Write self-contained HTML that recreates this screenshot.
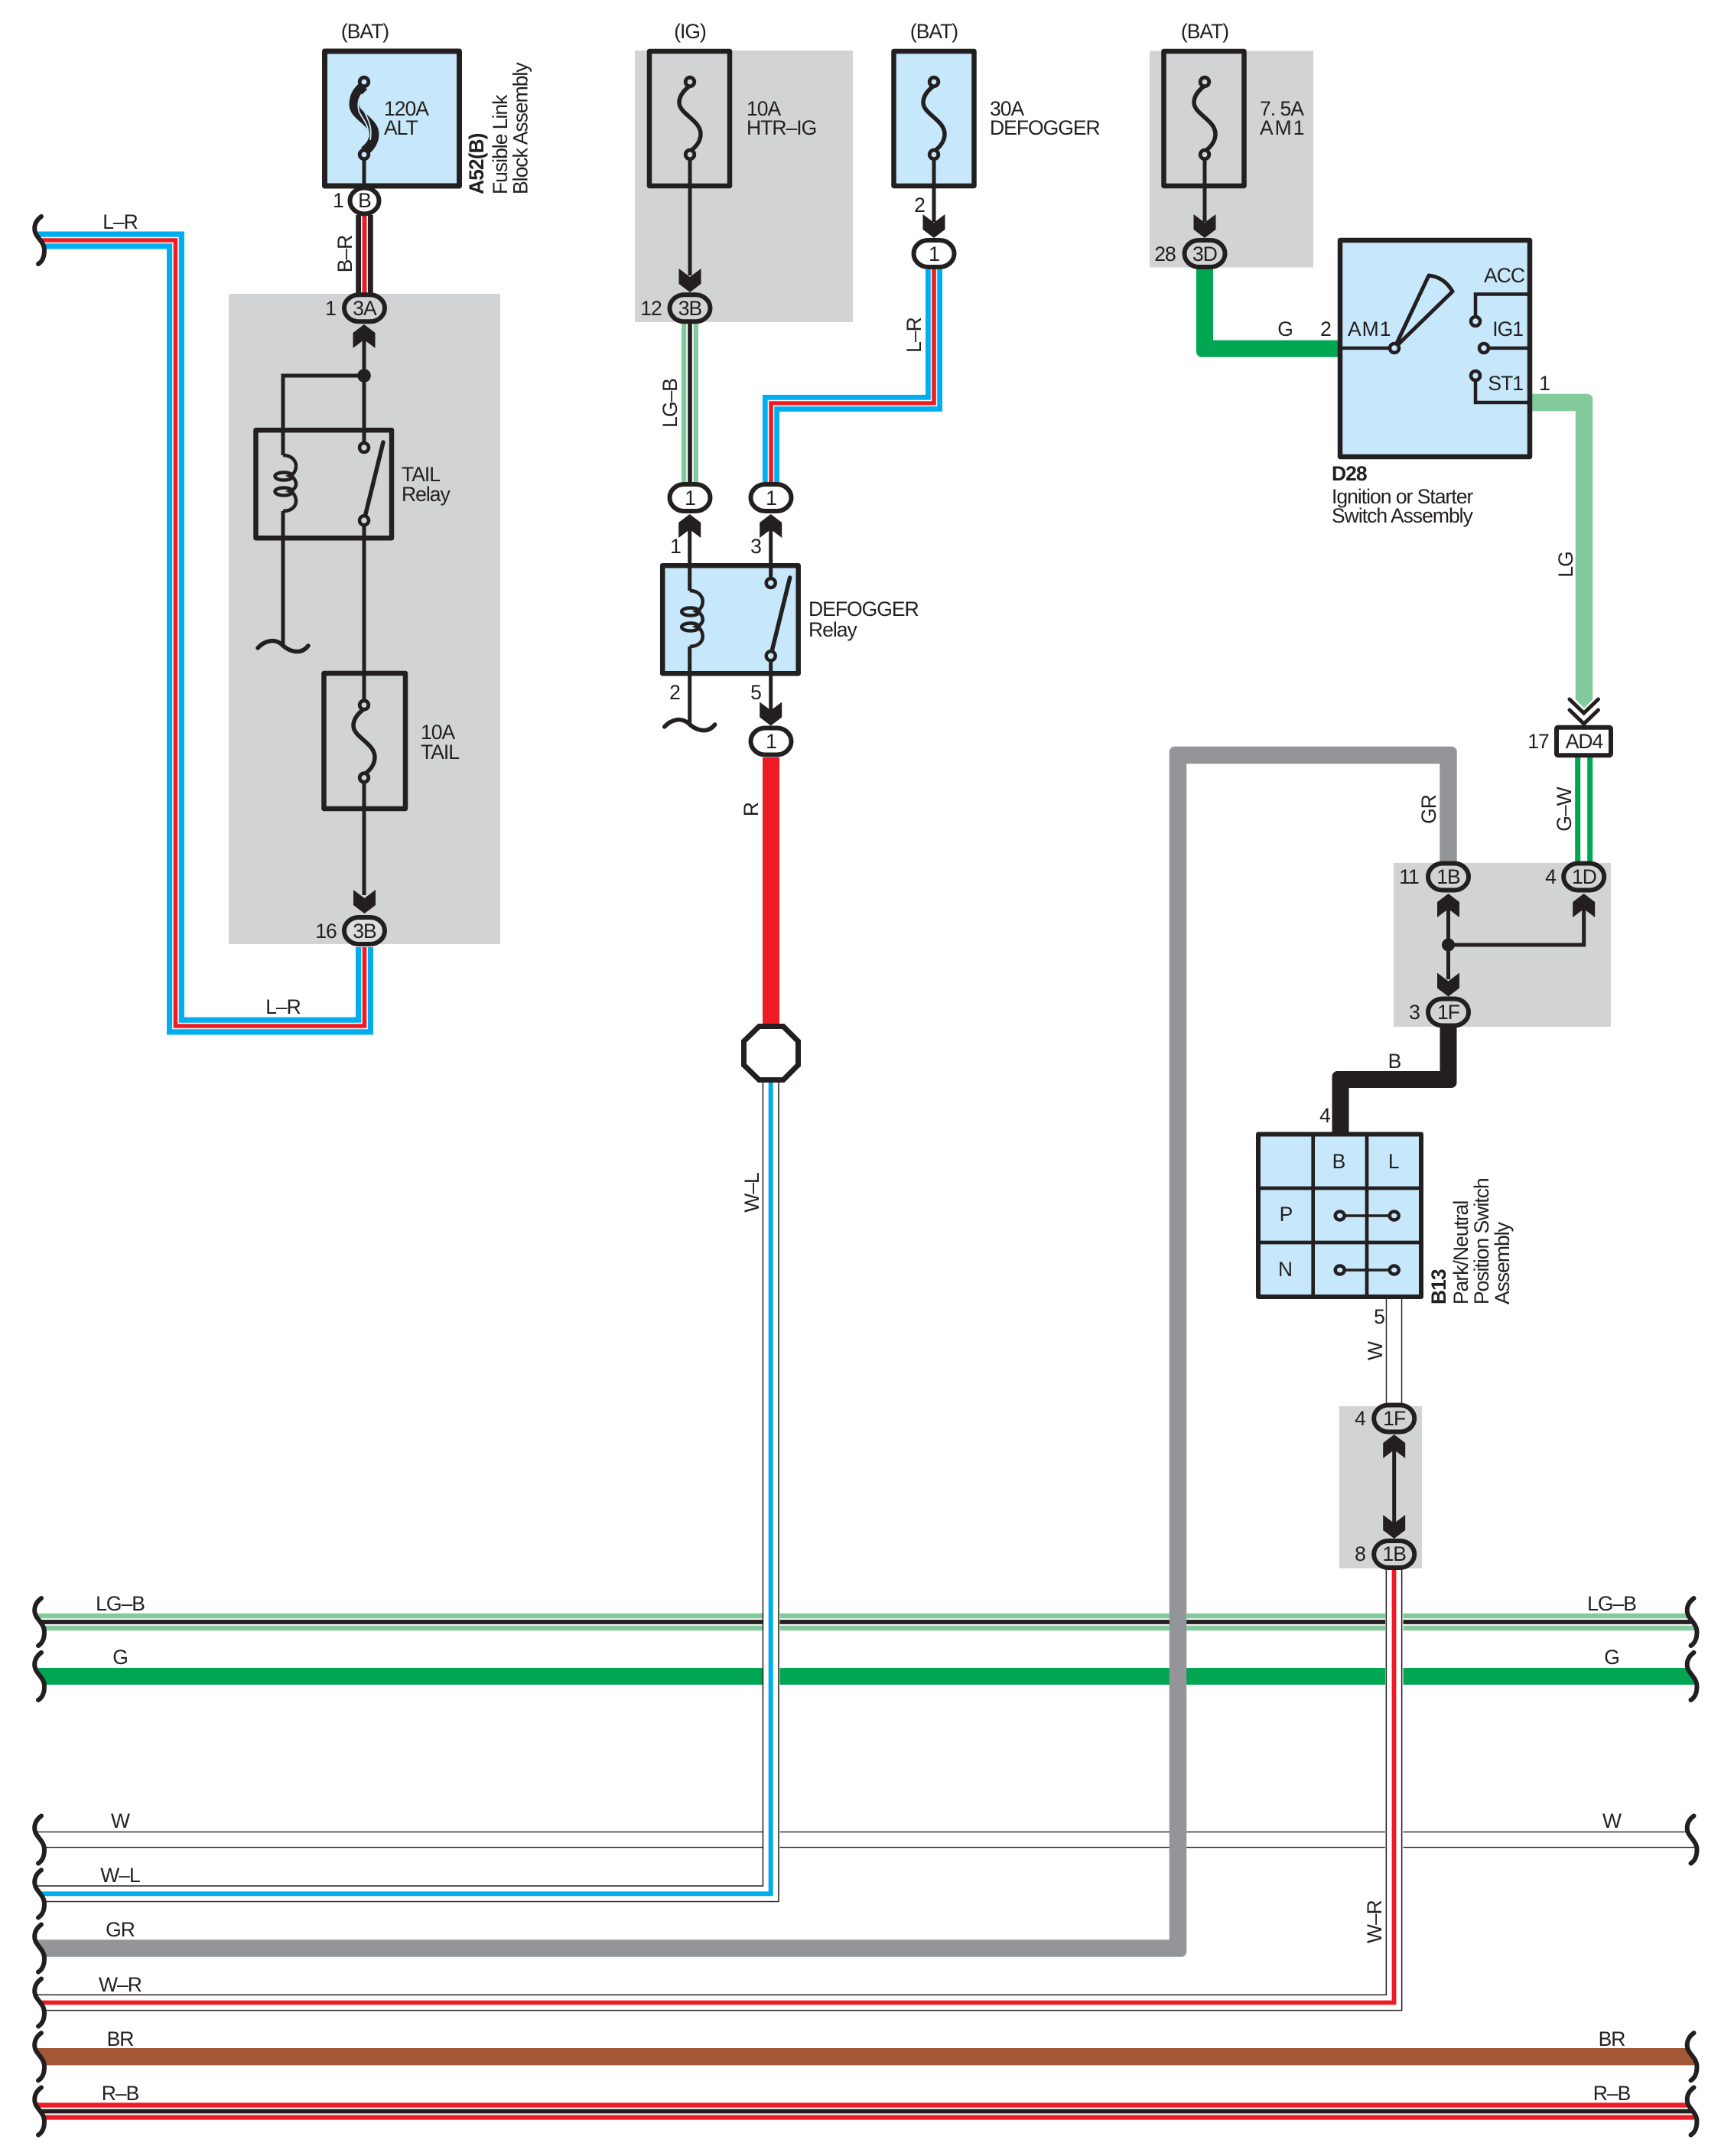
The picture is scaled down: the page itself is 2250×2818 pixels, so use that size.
<!DOCTYPE html>
<html lang="en">
<head>
<meta charset="utf-8">
<title>Wiring Diagram</title>
<style>
html,body{margin:0;padding:0;background:#fff;}
svg{display:block;}
text{font-family:"Liberation Sans",Arial,sans-serif;font-size:26.5px;letter-spacing:-1px;fill:#231f20;}
.m{text-anchor:middle;}
.e{text-anchor:end;}
.b{font-weight:bold;}
.k{stroke:#231f20;fill:none;stroke-width:5;}
.w{fill:none;stroke-linejoin:miter;stroke-linecap:butt;}
</style>
</head>
<body>
<svg xmlns="http://www.w3.org/2000/svg" width="2250" height="2818" viewBox="0 0 2250 2818">
<defs>
  <g id="arrD"><path d="M0,0 L-14.5,-11 L-14.5,-31 L0,-20 L14.5,-31 L14.5,-11 Z" fill="#231f20"/></g>
  <g id="arrU"><path d="M0,0 L-14.5,11 L-14.5,31 L0,20 L14.5,31 L14.5,11 Z" fill="#231f20"/></g>
  <g id="c"><rect x="-26.5" y="-17.5" width="53" height="35" rx="19" ry="17.5" stroke="#231f20" stroke-width="6"/></g>
  <g id="fuse">
    <path d="M0,5 C-8,11 -14,18 -14,27 C-14,42 14,50 14,68 C14,78 8,85 0,91" fill="none" stroke="#231f20" stroke-width="5.5"/>
    <circle cx="0" cy="0" r="5.8" stroke="#231f20" stroke-width="4.8"/>
    <circle cx="0" cy="95" r="5.8" stroke="#231f20" stroke-width="4.8"/>
  </g>
  <g id="relay">
    <rect x="-35.5" y="3.2" width="177.5" height="141" stroke="#231f20" stroke-width="6.5" stroke-linejoin="round"/>
    <path d="M0,3 V36 M0,109 V144 M106,3 V20 M106,127 V144" fill="none" stroke="#231f20" stroke-width="5"/>
    <path d="M0,36 C11,36 17,43 17,50 C17,56 14,61 9,63 C14,65 17,69 17,74 C17,78 14,81 9,83 C14,85 17,90 17,96 C17,103 11,109 0,109" fill="none" stroke="#231f20" stroke-width="4.5"/>
    <ellipse cx="1" cy="63.5" rx="11.5" ry="5" fill="none" stroke="#231f20" stroke-width="4.5"/>
    <ellipse cx="1" cy="83.5" rx="11.5" ry="5" fill="none" stroke="#231f20" stroke-width="4.5"/>
    <path d="M106,121 L131,19" fill="none" stroke="#231f20" stroke-width="5.5" stroke-linecap="round"/>
    <circle cx="106" cy="26" r="6" stroke="#231f20" stroke-width="4.5"/>
    <circle cx="106" cy="121.3" r="6" stroke="#231f20" stroke-width="4.5"/>
  </g>
  <path id="gnd" d="M337,847 C345,838 358,834 368,842 C376,850 392,858 403,844" fill="none" stroke="#231f20" stroke-width="5.5" stroke-linecap="round"/>
  <g id="sqL"><path d="M54,-31 C44,-24 44,-14 47,-8 C51,-1 58,4 58,13 C58,22 55,28 50,31 L0,31 L0,-31 Z" fill="#fff" stroke="none"/><path d="M54,-31 C44,-24 44,-14 47,-8 C51,-1 58,4 58,13 C58,22 55,28 50,31" fill="none" stroke="#231f20" stroke-width="6" stroke-linecap="round"/></g>
  <g id="sqR"><path d="M2214.5,-31 C2204.5,-24 2204.5,-14 2207.5,-8 C2211.5,-1 2218.5,4 2218.5,13 C2218.5,22 2215.5,28 2210.5,31 L2250,31 L2250,-31 Z" fill="#fff" stroke="none"/><path d="M2214.5,-31 C2204.5,-24 2204.5,-14 2207.5,-8 C2211.5,-1 2218.5,4 2218.5,13 C2218.5,22 2215.5,28 2210.5,31" fill="none" stroke="#231f20" stroke-width="6" stroke-linecap="round"/></g>
</defs>

<rect width="2250" height="2818" fill="#fff"/>

<!-- gray regions -->
<rect x="299" y="384" width="355" height="850" fill="#d1d3d4"/>
<rect x="830" y="66" width="285" height="355" fill="#d1d3d4"/>
<rect x="1503" y="66.5" width="214" height="283" fill="#d1d3d4"/>
<rect x="1822" y="1128" width="284" height="214" fill="#d1d3d4"/>
<rect x="1751" y="1838" width="108" height="212" fill="#d1d3d4"/>

<!-- horizontal bus wires -->
<path class="w" d="M40,2120 H2215" stroke="#82ca9c" stroke-width="22.6"/>
<path class="w" d="M40,2120 H2215" stroke="#fff" stroke-width="9.5"/>
<path class="w" d="M40,2120 H2215" stroke="#231f20" stroke-width="5.8"/>
<path class="w" d="M40,2191 H2215" stroke="#00a651" stroke-width="22"/>
<path class="w" d="M40,2404.5 H2215" stroke="#231f20" stroke-width="21.5"/>
<path class="w" d="M40,2404.5 H2215" stroke="#fff" stroke-width="18.7"/>
<path class="w" d="M40,2688.2 H2215" stroke="#a45735" stroke-width="22.4"/>
<path class="w" d="M40,2759.5 H2215" stroke="#ed1c24" stroke-width="22.2"/>
<path class="w" d="M40,2759.5 H2215" stroke="#fff" stroke-width="9.8"/>
<path class="w" d="M40,2759.5 H2215" stroke="#231f20" stroke-width="5.8"/>

<!-- breaks behind vertical wires -->
<rect x="997" y="2100" width="22.5" height="320" fill="#fff"/>
<rect x="1811" y="2100" width="23.5" height="320" fill="#fff"/>

<!-- L-R far left -->
<path class="w" d="M40,314 H229.5 V1341 H476.5 V1238" stroke="#00aeef" stroke-width="23"/>
<path class="w" d="M40,314 H229.5 V1341 H476.5 V1238" stroke="#fff" stroke-width="8.6"/>
<path class="w" d="M40,314 H229.5 V1341 H476.5 V1238" stroke="#ed1c24" stroke-width="5.6"/>

<!-- B-R -->
<path class="w" d="M476.5,281 V385" stroke="#231f20" stroke-width="22.5"/>
<path class="w" d="M476.5,281 V385" stroke="#fff" stroke-width="9"/>
<path class="w" d="M476.5,281 V385" stroke="#ed1c24" stroke-width="6"/>

<!-- LG-B vertical -->
<path class="w" d="M902,423 V630" stroke="#82ca9c" stroke-width="22"/>
<path class="w" d="M902,423 V630" stroke="#fff" stroke-width="9.5"/>
<path class="w" d="M902,423 V630" stroke="#231f20" stroke-width="5.5"/>

<!-- L-R centre -->
<path class="w" d="M1008,630 V527 H1221 V352" stroke="#00aeef" stroke-width="22"/>
<path class="w" d="M1008,630 V527 H1221 V352" stroke="#fff" stroke-width="8.6"/>
<path class="w" d="M1008,630 V527 H1221 V352" stroke="#ed1c24" stroke-width="5.6"/>

<!-- R -->
<path class="w" d="M1008,990 V1340" stroke="#ed1c24" stroke-width="22"/>

<!-- W-L -->
<path class="w" d="M40,2475.3 H1007.7 V1412" stroke="#231f20" stroke-width="22"/>
<path class="w" d="M40,2475.3 H1007.7 V1412" stroke="#fff" stroke-width="19"/>
<path class="w" d="M40,2475.3 H1007.7 V1412" stroke="#00aeef" stroke-width="6"/>

<!-- GR -->
<path class="w" d="M40,2546.5 H1540 V987 H1893.5 V1130" stroke="#939598" stroke-width="22.5"/>
<path d="M1528.6,975.6 h7.5 a7.5,7.5 0 0 0 -7.5,7.5 z M1904.9,975.6 h-7.5 a7.5,7.5 0 0 1 7.5,7.5 z M1551.4,2557.9 h-7.5 a7.5,7.5 0 0 0 7.5,-7.5 z" fill="#fff"/>

<!-- W-R -->
<path class="w" d="M40,2617.5 H1822.5 V2050" stroke="#231f20" stroke-width="21.8"/>
<path class="w" d="M40,2617.5 H1822.5 V2050" stroke="#fff" stroke-width="18.8"/>
<path class="w" d="M40,2617.5 H1822.5 V2050" stroke="#ed1c24" stroke-width="5.8"/>

<!-- G from 3D -->
<path class="w" d="M1575,350 V455.7 H1752" stroke="#00a651" stroke-width="22"/>
<path d="M1563.9,466.8 h7.5 a7.5,7.5 0 0 1 -7.5,-7.5 z" fill="#fff"/>

<!-- LG -->
<path class="w" d="M2000,526 H2071 V912" stroke="#82ca9c" stroke-width="22.5"/>
<path d="M2082.4,514.7 h-7.5 a7.5,7.5 0 0 1 7.5,7.5 z" fill="#fff"/>
<path d="M2059.7,911 H2082.3 V914 L2071,925.5 L2059.7,914 Z" fill="#82ca9c"/>

<!-- G-W -->
<path class="w" d="M2070.7,988 V1130" stroke="#00a651" stroke-width="23"/>
<path class="w" d="M2070.7,988 V1130" stroke="#fff" stroke-width="9"/>

<!-- B -->
<path class="w" d="M1893.5,1342 V1411 H1752.5 V1482" stroke="#231f20" stroke-width="22"/>
<path d="M1904.6,1422.1 h-7.5 a7.5,7.5 0 0 0 7.5,-7.5 z M1741.4,1399.9 h7.5 a7.5,7.5 0 0 0 -7.5,7.5 z" fill="#fff"/>

<!-- W -->
<path class="w" d="M1822.5,1696 V1838" stroke="#231f20" stroke-width="21.5"/>
<path class="w" d="M1822.5,1696 V1838" stroke="#fff" stroke-width="18.7"/>

<!-- squiggles -->
<use href="#sqL" x="0" y="314"/>
<use href="#sqL" x="0" y="2120"/>
<use href="#sqL" x="0" y="2191"/>
<use href="#sqL" x="0" y="2404.5"/>
<use href="#sqL" x="0" y="2475.3"/>
<use href="#sqL" x="0" y="2546.5"/>
<use href="#sqL" x="0" y="2617.5"/>
<use href="#sqL" x="0" y="2688.2"/>
<use href="#sqL" x="0" y="2759.5"/>
<use href="#sqR" x="0" y="2120"/>
<use href="#sqR" x="0" y="2191"/>
<use href="#sqR" x="0" y="2404.5"/>
<use href="#sqR" x="0" y="2688.2"/>
<use href="#sqR" x="0" y="2759.5"/>

<!-- A52 block -->
<rect x="424.5" y="67" width="176" height="176" fill="#c7e8fa" stroke="#231f20" stroke-width="7" stroke-linejoin="round"/>
<path class="k" d="M476,208 V244"/>
<path d="M0,5 C-10,13 -13,20 -13,30 C-13,44 13,52 13,68 C13,78 8,85 0,91" transform="translate(476,107)" fill="none" stroke="#231f20" stroke-width="13"/>
<path d="M-3,16 C-9,24 -8,32 -7,37 C-4,48 6,52 6,72" transform="translate(476,107)" fill="none" stroke="#c7e8fa" stroke-width="1.8"/>
<path d="M2,20 C-3,28 -1,36 2,42 C5,50 11,58 8,76" transform="translate(476,107)" fill="none" stroke="#c7e8fa" stroke-width="1.8"/>
<circle cx="476" cy="107" r="5.8" fill="#c7e8fa" stroke="#231f20" stroke-width="4.8"/>
<circle cx="476" cy="202" r="5.8" fill="#c7e8fa" stroke="#231f20" stroke-width="4.8"/>
<ellipse cx="476.5" cy="262.5" rx="19" ry="17" fill="#fff" stroke="#231f20" stroke-width="6"/>

<!-- TAIL circuit -->
<path class="k" d="M476,440 V585 M476,680 V1170"/>
<path class="k" d="M370,595 V491 H476"/>
<path class="k" d="M370,668 V846"/>
<use href="#gnd"/>
<circle cx="476" cy="491" r="8.8" fill="#231f20"/>
<use href="#relay" x="370" y="559" fill="#d1d3d4"/>
<use href="#arrU" x="476" y="424"/>
<rect x="423.5" y="880" width="106.5" height="177" fill="#d1d3d4" stroke="#231f20" stroke-width="6.5" stroke-linejoin="round"/>
<path class="k" d="M476,877 V921 M476,1017 V1170"/>
<use href="#fuse" x="476" y="921.5" fill="#d1d3d4"/>
<use href="#arrD" x="476.5" y="1194"/>
<use href="#c" x="476.5" y="402.8" fill="#d1d3d4"/>
<use href="#c" x="476.5" y="1216.5" fill="#dcddde"/>

<!-- HTR-IG -->
<rect x="849" y="67" width="105" height="176" fill="#d1d3d4" stroke="#231f20" stroke-width="6.5" stroke-linejoin="round"/>
<path class="k" d="M902,202 V360"/>
<use href="#fuse" x="902" y="107" fill="#d1d3d4"/>
<use href="#arrD" x="902" y="382"/>
<use href="#c" x="902" y="402.8" fill="#d1d3d4"/>

<!-- 30A DEFOGGER -->
<rect x="1168.5" y="67" width="105" height="176" fill="#c7e8fa" stroke="#231f20" stroke-width="6.5" stroke-linejoin="round"/>
<path class="k" d="M1221,202 V290"/>
<use href="#fuse" x="1221" y="107" fill="#c7e8fa"/>
<use href="#arrD" x="1221" y="311"/>
<use href="#c" x="1221" y="331.5" fill="#fff"/>

<!-- AM1 fuse -->
<rect x="1521.5" y="67" width="105" height="176" fill="#d1d3d4" stroke="#231f20" stroke-width="6.5" stroke-linejoin="round"/>
<path class="k" d="M1575,202 V290"/>
<use href="#fuse" x="1575" y="107" fill="#d1d3d4"/>
<use href="#arrD" x="1575" y="311"/>
<use href="#c" x="1575" y="331.5" fill="#d1d3d4"/>

<!-- defogger relay -->
<use href="#c" x="902" y="650.5" fill="#fff"/>
<use href="#c" x="1008" y="650.5" fill="#fff"/>
<path class="k" d="M901.7,690 V773 M901.7,846 V948"/>
<path class="k" d="M1007.7,690 V762 M1007.7,858 V930"/>
<use href="#relay" x="901.7" y="736" fill="#c7e8fa"/>
<use href="#gnd" x="531.7" y="103"/>
<use href="#arrU" x="901.7" y="672"/>
<use href="#arrU" x="1007.7" y="672"/>
<use href="#arrD" x="1007.7" y="948.5"/>
<use href="#c" x="1008" y="969" fill="#fff"/>

<!-- splice -->
<path d="M992.5,1341.5 H1024 L1043.5,1361 V1392 L1024,1411.5 H992.5 L972.5,1392 V1361 Z" fill="#fff" stroke="#231f20" stroke-width="7"/>

<!-- Ignition switch -->
<rect x="1752" y="314" width="248" height="283" fill="#c7e8fa" stroke="#231f20" stroke-width="6.5" stroke-linejoin="round"/>
<path class="k" style="stroke-width:4.5" d="M1752,455 H1823"/>
<path d="M1823,455 L1868,360 Q1888,362 1899,381 Z" fill="#c7e8fa" stroke="#231f20" stroke-width="5" stroke-linejoin="round"/>
<circle cx="1823" cy="455" r="6" fill="#c7e8fa" stroke="#231f20" stroke-width="4.5"/>
<path class="k" style="stroke-width:4.5" d="M2000,384.5 H1929 V420 M1946,455 H2000 M1929,491 V526 H2000"/>
<circle cx="1929" cy="420" r="6" fill="#c7e8fa" stroke="#231f20" stroke-width="4.5"/>
<circle cx="1940" cy="455" r="6" fill="#c7e8fa" stroke="#231f20" stroke-width="4.5"/>
<circle cx="1929" cy="491" r="6" fill="#c7e8fa" stroke="#231f20" stroke-width="4.5"/>

<!-- AD4 chevrons -->
<path d="M2052,914 L2070.7,932 L2089.5,914" fill="none" stroke="#fff" stroke-width="9"/>
<path d="M2052,914 L2070.7,932 L2089.5,914" fill="none" stroke="#231f20" stroke-width="5" stroke-linecap="round"/>
<path d="M2052,928 L2070.7,946 L2089.5,928" fill="none" stroke="#231f20" stroke-width="5" stroke-linecap="round"/>
<rect x="2035" y="950.7" width="71" height="36.5" rx="2" fill="#fff" stroke="#231f20" stroke-width="6"/>

<!-- 1B 1D 1F group -->
<path class="k" d="M1893.5,1180 V1280 M1893.5,1235 H2070.7 V1180"/>
<circle cx="1893.5" cy="1235" r="8.5" fill="#231f20"/>
<use href="#arrU" x="1893.5" y="1168"/>
<use href="#arrU" x="2070.7" y="1168"/>
<use href="#arrD" x="1893.5" y="1302.5"/>
<use href="#c" x="1893.5" y="1146" fill="#d1d3d4"/>
<use href="#c" x="2070.7" y="1146" fill="#d1d3d4"/>
<use href="#c" x="1893.5" y="1323" fill="#d1d3d4"/>

<!-- P/N table -->
<rect x="1645" y="1482.5" width="213" height="212.5" fill="#c7e8fa" stroke="#231f20" stroke-width="6" stroke-linejoin="round"/>
<path d="M1716.7,1482 V1695 M1787,1482 V1695 M1645,1553 H1858 M1645,1624 H1858" stroke="#231f20" stroke-width="4.7" fill="none"/>
<path d="M1751.7,1589 H1822.7 M1751.7,1660 H1822.7" stroke="#231f20" stroke-width="3.5" fill="none"/>
<ellipse cx="1751.7" cy="1589" rx="6" ry="5.5" fill="#c7e8fa" stroke="#231f20" stroke-width="4.5"/>
<ellipse cx="1822.7" cy="1589" rx="6" ry="5.5" fill="#c7e8fa" stroke="#231f20" stroke-width="4.5"/>
<ellipse cx="1751.7" cy="1660" rx="6" ry="5.5" fill="#c7e8fa" stroke="#231f20" stroke-width="4.5"/>
<ellipse cx="1822.7" cy="1660" rx="6" ry="5.5" fill="#c7e8fa" stroke="#231f20" stroke-width="4.5"/>

<!-- 1F-1B bottom -->
<path class="k" d="M1822.7,1890 V1995"/>
<use href="#arrU" x="1822.7" y="1875"/>
<use href="#arrD" x="1822.7" y="2011"/>
<use href="#c" x="1822.7" y="1854" fill="#d1d3d4"/>
<use href="#c" x="1822.7" y="2031.5" fill="#d1d3d4"/>

<!-- TEXT -->
<text class="m" x="477" y="50">(BAT)</text>
<text x="502" y="151">120A</text>
<text x="502" y="176">ALT</text>
<text class="m" x="442" y="271">1</text>
<text class="m" x="476.5" y="271">B</text>
<text class="m" x="432" y="412">1</text>
<text class="m" x="476.5" y="412">3A</text>
<text class="b" transform="translate(632,254) rotate(-90)">A52(B)</text>
<text transform="translate(663,254) rotate(-90)">Fusible Link</text>
<text transform="translate(689.5,254) rotate(-90)">Block Assembly</text>
<text class="m" transform="translate(460,332) rotate(-90)">B–R</text>
<text class="m" x="157" y="299">L–R</text>
<text x="525" y="629">TAIL</text>
<text x="525" y="655">Relay</text>
<text x="550" y="966">10A</text>
<text x="550" y="992">TAIL</text>
<text class="m" x="426" y="1226">16</text>
<text class="m" x="476.5" y="1226">3B</text>
<text class="m" x="370" y="1325">L–R</text>

<text class="m" x="902" y="50">(IG)</text>
<text x="976" y="151">10A</text>
<text x="976" y="176">HTR–IG</text>
<text class="m" x="851" y="412">12</text>
<text class="m" x="902" y="412">3B</text>
<text class="m" transform="translate(885,527) rotate(-90)">LG–B</text>
<text class="m" x="902" y="660">1</text>
<text class="m" x="1008" y="660">1</text>

<text class="m" x="1221" y="50">(BAT)</text>
<text x="1294" y="151">30A</text>
<text x="1294" y="176">DEFOGGER</text>
<text class="m" x="1202" y="277">2</text>
<text class="m" x="1221" y="341">1</text>
<text class="m" transform="translate(1204,438) rotate(-90)">L–R</text>

<text class="m" x="883" y="723">1</text>
<text class="m" x="988" y="723">3</text>
<text class="m" x="882" y="914">2</text>
<text class="m" x="988" y="914">5</text>
<text x="1057" y="805">DEFOGGER</text>
<text x="1057" y="832">Relay</text>
<text class="m" x="1008" y="978">1</text>
<text class="m" transform="translate(991,1058) rotate(-90)">R</text>
<text class="m" transform="translate(992,1559) rotate(-90)">W–L</text>

<text class="m" x="1575" y="50">(BAT)</text>
<text x="1647" y="151">7. 5A</text>
<text x="1647" y="176" style="letter-spacing:2px">AM1</text>
<text class="m" x="1523" y="341">28</text>
<text class="m" x="1575" y="341">3D</text>
<text class="m" x="1680" y="439">G</text>
<text class="m" x="1733" y="439">2</text>
<text x="1762" y="439" style="letter-spacing:1px">AM1</text>
<text class="e" x="1993" y="369">ACC</text>
<text class="e" x="1991" y="439">IG1</text>
<text class="e" x="1991" y="510">ST1</text>
<text class="m" x="2019" y="510">1</text>
<text class="b" x="1741" y="628">D28</text>
<text x="1741" y="658">Ignition or Starter</text>
<text x="1741" y="683">Switch Assembly</text>
<text class="m" transform="translate(2056,738) rotate(-90)">LG</text>

<text class="m" x="2011" y="978">17</text>
<text class="m" x="2071" y="978">AD4</text>
<text class="m" transform="translate(1877,1058) rotate(-90)">GR</text>
<text class="m" transform="translate(2054,1058) rotate(-90)">G–W</text>
<text class="m" x="1842" y="1155">11</text>
<text class="m" x="1893.5" y="1155">1B</text>
<text class="m" x="2027" y="1155">4</text>
<text class="m" x="2071" y="1155">1D</text>
<text class="m" x="1849" y="1332">3</text>
<text class="m" x="1893.5" y="1332">1F</text>
<text class="m" x="1823" y="1396">B</text>
<text class="m" x="1732" y="1467">4</text>
<text class="m" x="1750" y="1527">B</text>
<text class="m" x="1821.7" y="1527">L</text>
<text class="m" x="1681" y="1596">P</text>
<text class="m" x="1680" y="1668">N</text>
<text class="b" transform="translate(1890,1705) rotate(-90)">B13</text>
<text transform="translate(1919,1705) rotate(-90)">Park/Neutral</text>
<text transform="translate(1946,1705) rotate(-90)">Position Switch</text>
<text transform="translate(1973,1705) rotate(-90)">Assembly</text>
<text class="m" x="1803" y="1730">5</text>
<text class="m" transform="translate(1807,1766) rotate(-90)">W</text>
<text class="m" x="1778" y="1863">4</text>
<text class="m" x="1822.7" y="1863">1F</text>
<text class="m" x="1778" y="2040">8</text>
<text class="m" x="1822.7" y="2040">1B</text>
<text class="m" transform="translate(1806,2512) rotate(-90)">W–R</text>

<text class="m" x="157" y="2105">LG–B</text>
<text class="m" x="157" y="2175">G</text>
<text class="m" x="157" y="2389">W</text>
<text class="m" x="157" y="2460">W–L</text>
<text class="m" x="157" y="2531">GR</text>
<text class="m" x="157" y="2603">W–R</text>
<text class="m" x="157" y="2674">BR</text>
<text class="m" x="157" y="2745">R–B</text>
<text class="m" x="2107" y="2105">LG–B</text>
<text class="m" x="2107" y="2175">G</text>
<text class="m" x="2107" y="2389">W</text>
<text class="m" x="2107" y="2674">BR</text>
<text class="m" x="2107" y="2745">R–B</text>
</svg>
</body>
</html>
